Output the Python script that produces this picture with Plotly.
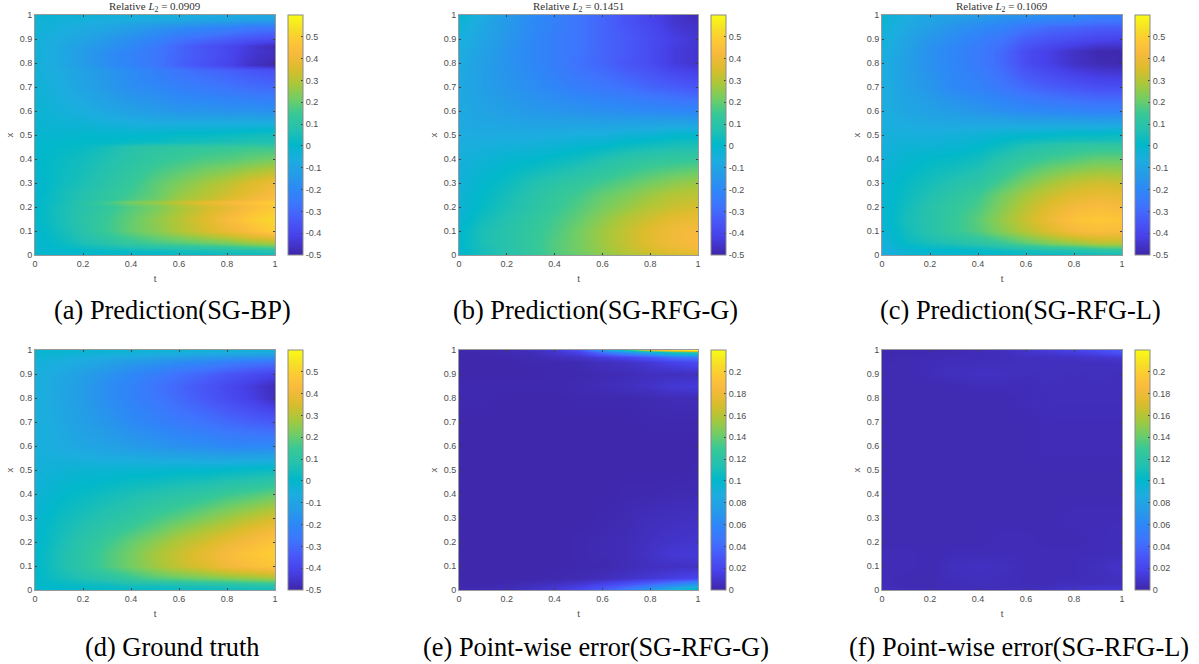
import plotly.graph_objects as go

W, H = 1199, 664
T = [0, .1, .2, .3, .4, .5, .6, .7, .8, .9, 1]
X = [0, .02, .05, .1, .15, .2, .25, .3, .4, .5, .6, .7, .8, .85, .9, .95, .98, 1]
XA = [0, .02, .05, .1, .15, .2, .22, .235, .25, .3, .4, .45, .47, .5, .6, .7, .77, .79, .85, .87, .9, .95, .98, 1]
XC = [0, .02, .05, .1, .15, .2, .25, .3, .4, .46, .48, .5, .6, .7, .8, .85, .9, .95, .98, 1]
XE = [0, .01, .03, .05, .1, .15, .2, .3, .4, .5, .6, .7, .8, .85, .9, .95, .97, .99, 1]

pred_bp = [
 [-.01,-.01,0,0,0,0,.01,.01,.02,.02,.03],
 [-.01,0,.01,.02,.03,.04,.05,.06,.07,.08,.1],
 [-.01,.02,.06,.09,.13,.16,.18,.2,.22,.26,.28],
 [-.01,.04,.09,.15,.2,.24,.29,.34,.39,.44,.5],
 [0,.05,.1,.15,.2,.25,.3,.36,.43,.49,.52],
 [0,.05,.09,.13,.18,.22,.28,.33,.38,.44,.48],
 [0,.04,.1,.16,.22,.26,.32,.38,.42,.46,.5],
 [0,.04,.08,.12,.17,.21,.27,.31,.36,.41,.45],
 [-.01,.04,.08,.12,.16,.2,.26,.3,.34,.39,.44],
 [-.01,.03,.06,.1,.14,.19,.23,.27,.31,.36,.4],
 [0,.02,.04,.07,.1,.13,.15,.17,.18,.2,.22],
 [0,.01,.02,.05,.09,.11,.12,.13,.14,.15,.15],
 [0,0,.01,.01,.02,.03,.04,.05,.06,.07,.07],
 [-.01,-.01,0,0,0,0,.02,.02,.03,.04,.05],
 [-.02,-.04,-.06,-.09,-.11,-.13,-.15,-.15,-.16,-.16,-.17],
 [-.03,-.06,-.1,-.14,-.18,-.2,-.23,-.25,-.27,-.29,-.3],
 [-.04,-.07,-.11,-.15,-.19,-.23,-.27,-.3,-.32,-.35,-.37],
 [-.04,-.08,-.13,-.18,-.22,-.26,-.32,-.36,-.4,-.46,-.49],
 [-.04,-.08,-.13,-.18,-.22,-.26,-.31,-.35,-.39,-.44,-.47],
 [-.04,-.08,-.12,-.16,-.2,-.25,-.31,-.36,-.39,-.44,-.48],
 [-.04,-.07,-.1,-.14,-.18,-.22,-.27,-.3,-.33,-.36,-.38],
 [-.03,-.05,-.07,-.09,-.12,-.15,-.18,-.2,-.22,-.25,-.26],
 [-.03,-.04,-.05,-.06,-.07,-.08,-.09,-.1,-.11,-.12,-.12],
 [-.02,-.03,-.03,-.04,-.04,-.05,-.05,-.06,-.07,-.07,-.08],
]
pred_g = [
 [0,.05,.08,.12,.17,.2,.24,.28,.31,.34,.36],
 [0,.05,.09,.13,.18,.22,.26,.31,.35,.38,.4],
 [0,.06,.09,.13,.18,.22,.27,.32,.37,.41,.43],
 [0,.06,.09,.13,.17,.22,.27,.32,.37,.41,.43],
 [-.02,.04,.08,.12,.16,.2,.25,.3,.34,.38,.39],
 [-.03,.02,.06,.1,.14,.18,.22,.26,.3,.33,.35],
 [-.03,.01,.05,.09,.13,.16,.2,.23,.27,.3,.31],
 [-.04,0,.03,.07,.1,.13,.16,.19,.22,.25,.27],
 [-.05,-.03,-.01,0,.02,.04,.07,.1,.12,.13,.14],
 [-.07,-.07,-.07,-.07,-.06,-.05,-.05,-.03,-.02,0,0],
 [-.08,-.1,-.12,-.14,-.15,-.16,-.17,-.18,-.19,-.2,-.21],
 [-.08,-.12,-.15,-.18,-.21,-.24,-.26,-.28,-.31,-.33,-.35],
 [-.07,-.12,-.16,-.2,-.24,-.28,-.31,-.35,-.38,-.43,-.45],
 [-.06,-.11,-.16,-.2,-.24,-.27,-.31,-.34,-.38,-.43,-.45],
 [-.05,-.1,-.15,-.2,-.24,-.27,-.31,-.34,-.38,-.42,-.45],
 [-.03,-.09,-.14,-.19,-.23,-.27,-.31,-.35,-.39,-.44,-.46],
 [-.02,-.08,-.14,-.19,-.23,-.27,-.31,-.36,-.4,-.45,-.47],
 [-.01,-.07,-.13,-.18,-.23,-.27,-.31,-.36,-.4,-.45,-.48],
]
pred_l = [
 [-.07,-.02,-.01,0,0,0,.01,.01,.02,.03,.03],
 [-.06,-.02,0,0,.01,.03,.05,.07,.08,.1,.12],
 [-.05,.02,.05,.07,.1,.14,.19,.23,.26,.3,.3],
 [-.03,.04,.09,.14,.18,.24,.3,.36,.42,.44,.43],
 [-.02,.05,.09,.14,.19,.26,.33,.4,.46,.48,.47],
 [-.02,.04,.09,.13,.17,.24,.31,.37,.42,.44,.42],
 [-.02,.03,.07,.11,.15,.22,.28,.33,.37,.39,.38],
 [-.02,.02,.05,.08,.11,.17,.23,.28,.32,.34,.33],
 [-.04,-.01,.01,.02,.04,.09,.13,.16,.18,.2,.2],
 [-.05,-.03,-.03,-.02,0,.03,.07,.09,.11,.12,.12],
 [-.05,-.04,-.04,-.03,-.02,.01,.03,.04,.05,.05,.05],
 [-.05,-.05,-.05,-.04,-.03,-.01,0,.01,.02,.02,.03],
 [-.06,-.09,-.11,-.13,-.15,-.17,-.19,-.2,-.21,-.22,-.22],
 [-.06,-.11,-.15,-.2,-.22,-.26,-.3,-.33,-.35,-.37,-.37],
 [-.06,-.12,-.17,-.21,-.25,-.3,-.38,-.42,-.46,-.48,-.49],
 [-.05,-.11,-.17,-.21,-.25,-.3,-.38,-.42,-.46,-.49,-.49],
 [-.04,-.1,-.15,-.19,-.23,-.27,-.33,-.36,-.38,-.4,-.41],
 [-.03,-.08,-.12,-.16,-.19,-.22,-.27,-.3,-.31,-.33,-.33],
 [-.02,-.07,-.1,-.13,-.15,-.18,-.2,-.22,-.23,-.26,-.26],
 [-.02,-.06,-.09,-.11,-.13,-.15,-.16,-.18,-.2,-.22,-.24],
]
truth = [
 [0,0,.01,.01,.01,.01,.02,.02,.02,.03,.03],
 [0,.01,.02,.03,.05,.05,.06,.07,.08,.09,.1],
 [0,.04,.07,.1,.14,.18,.2,.22,.24,.26,.28],
 [0,.06,.11,.17,.22,.27,.32,.36,.41,.44,.47],
 [0,.06,.11,.17,.22,.28,.33,.38,.43,.47,.5],
 [-.01,.05,.1,.15,.2,.25,.3,.34,.39,.43,.47],
 [-.01,.04,.08,.12,.16,.2,.25,.29,.33,.38,.42],
 [-.02,.03,.06,.09,.12,.16,.19,.23,.27,.31,.35],
 [-.03,0,.02,.04,.06,.08,.1,.12,.15,.17,.2],
 [-.04,-.03,-.02,-.02,-.01,-.01,0,0,.01,.02,.03],
 [-.05,-.07,-.09,-.11,-.13,-.15,-.17,-.18,-.2,-.2,-.2],
 [-.05,-.08,-.12,-.15,-.19,-.22,-.25,-.27,-.3,-.32,-.34],
 [-.05,-.09,-.13,-.18,-.22,-.26,-.3,-.34,-.38,-.42,-.47],
 [-.05,-.09,-.13,-.18,-.22,-.27,-.31,-.35,-.39,-.43,-.48],
 [-.05,-.08,-.12,-.16,-.2,-.24,-.28,-.31,-.35,-.38,-.41],
 [-.04,-.06,-.08,-.11,-.14,-.16,-.19,-.21,-.24,-.26,-.28],
 [-.02,-.03,-.04,-.05,-.06,-.08,-.09,-.1,-.11,-.12,-.13],
 [-.01,-.01,-.01,-.02,-.02,-.02,-.02,-.03,-.03,-.03,-.03],
]
err_g = [
 [.003,.003,.004,.008,.012,.02,.035,.05,.075,.095,.105],
 [.002,.003,.004,.007,.012,.018,.03,.045,.065,.085,.1],
 [.001,.001,.002,.004,.006,.01,.016,.024,.035,.05,.065],
 [.001,.001,.001,.001,.002,.003,.005,.008,.012,.016,.02],
 [.001,.001,.001,.001,.001,.002,.002,.004,.006,.007,.008],
 [.001,.001,.001,.001,.001,.002,.003,.004,.008,.012,.013],
 [.001,.001,.001,.001,.001,.002,.003,.004,.007,.009,.01],
 [.001,.001,.001,.001,.001,.001,.002,.003,.005,.006,.007],
 [.001,.001,.001,.001,.001,.001,.001,.002,.002,.003,.003],
 [.001,.001,.001,.001,.001,.001,.001,.001,.001,.001,.002],
 [.001,.001,.001,.001,.001,.001,.001,.001,.001,.001,.001],
 [.001,.001,.001,.001,.001,.001,.001,.001,.002,.002,.002],
 [.002,.002,.001,.001,.001,.002,.002,.002,.003,.004,.004],
 [.002,.002,.002,.002,.002,.003,.004,.006,.008,.012,.013],
 [.001,.001,.001,.001,.002,.002,.003,.004,.006,.006,.007],
 [.001,.001,.001,.002,.002,.003,.006,.008,.012,.018,.022],
 [.001,.001,.002,.003,.005,.008,.014,.02,.03,.045,.05],
 [.001,.002,.003,.004,.01,.018,.045,.07,.09,.12,.13],
 [.002,.002,.003,.006,.012,.025,.07,.11,.17,.2,.22],
]
err_l = [
 [.006,.004,.004,.004,.005,.005,.005,.006,.008,.012,.012],
 [.005,.004,.004,.004,.005,.005,.005,.006,.009,.01,.01],
 [.004,.003,.003,.004,.005,.005,.004,.004,.005,.005,.006],
 [.004,.003,.003,.005,.006,.005,.004,.004,.004,.005,.007],
 [.004,.004,.003,.006,.007,.006,.004,.004,.004,.006,.009],
 [.004,.004,.003,.004,.004,.004,.004,.004,.004,.004,.005],
 [.003,.003,.003,.003,.003,.004,.004,.003,.003,.004,.005],
 [.003,.003,.003,.003,.003,.003,.003,.003,.004,.004,.004],
 [.003,.003,.003,.003,.003,.003,.003,.003,.003,.003,.003],
 [.003,.003,.003,.003,.003,.003,.003,.003,.003,.003,.003],
 [.003,.003,.003,.003,.003,.003,.003,.004,.004,.004,.004],
 [.003,.003,.003,.003,.003,.003,.003,.004,.004,.004,.004],
 [.003,.003,.003,.003,.003,.003,.004,.005,.005,.005,.005],
 [.003,.003,.003,.003,.004,.004,.004,.005,.005,.005,.005],
 [.003,.003,.004,.006,.007,.007,.005,.006,.005,.006,.005],
 [.003,.003,.004,.005,.005,.005,.006,.006,.006,.006,.007],
 [.002,.003,.003,.004,.004,.005,.006,.007,.008,.01,.012],
 [.002,.002,.003,.003,.004,.005,.009,.012,.015,.02,.03],
 [.002,.002,.002,.003,.004,.006,.01,.014,.018,.025,.032],
]

panels = [
 (pred_bp, XA, "pred", "Relative <i>L</i><sub>2</sub> = 0.0909", "(a) Prediction(SG-BP)"),
 (pred_g, X, "pred", "Relative <i>L</i><sub>2</sub> = 0.1451", "(b) Prediction(SG-RFG-G)"),
 (pred_l, XC, "pred", "Relative <i>L</i><sub>2</sub> = 0.1069", "(c) Prediction(SG-RFG-L)"),
 (truth, X, "pred", None, "(d) Ground truth"),
 (err_g, XE, "err", None, "(e) Point-wise error(SG-RFG-G)"),
 (err_l, XE, "err", None, "(f) Point-wise error(SG-RFG-L)"),
]
x_ticks = [0, .2, .4, .6, .8, 1]
x_labels = ["0", "0.2", "0.4", "0.6", "0.8", "1"]
y_ticks = [0, .1, .2, .3, .4, .5, .6, .7, .8, .9, 1]
y_labels = ["0", "0.1", "0.2", "0.3", "0.4", "0.5", "0.6", "0.7", "0.8", "0.9", "1"]
pred_ticks = [-.5, -.4, -.3, -.2, -.1, 0, .1, .2, .3, .4, .5]
pred_labels = ["-0.5", "-0.4", "-0.3", "-0.2", "-0.1", "0", "0.1", "0.2", "0.3", "0.4", "0.5"]
err_ticks = [0, .02, .04, .06, .08, .1, .12, .14, .16, .18, .2]
err_labels = ["0", "0.02", "0.04", "0.06", "0.08", "0.1", "0.12", "0.14", "0.16", "0.18", "0.2"]

parula = [[0.0, "rgb(62,38,168)"], [0.0794, "rgb(71,65,234)"], [0.1429, "rgb(72,88,248)"],
 [0.2063, "rgb(62,116,253)"], [0.2698, "rgb(46,135,247)"], [0.3333, "rgb(37,155,232)"],
 [0.3968, "rgb(28,173,223)"], [0.4603, "rgb(1,184,202)"], [0.5238, "rgb(36,193,175)"],
 [0.5873, "rgb(55,200,151)"], [0.6508, "rgb(114,205,100)"], [0.7143, "rgb(171,199,57)"],
 [0.7778, "rgb(220,188,44)"], [0.8413, "rgb(248,186,61)"], [0.8889, "rgb(253,199,54)"],
 [0.9365, "rgb(246,220,40)"], [1.0, "rgb(249,251,21)"]]

PX = [(35, 275, 288), (459, 698, 711), (882, 1122, 1135)]
PY = [(15, 255), (350, 590)]
SANS = "Liberation Sans"
SERIF = "Liberation Serif"
GREY = "#4d4d4d"
caption_cx = [172.5, 595.5, 1020, 172, 596, 1019]
caption_y = [310, 310, 310, 647, 647, 647]

fig = go.Figure()
ann = []
for i, (z, xs, kind, title, cap) in enumerate(panels):
    c, r = i % 3, i // 3
    x0, x1, cb = PX[c]
    y0, y1 = PY[r]
    n = "" if i == 0 else str(i + 1)
    zmin, zmax = (-.5, .6) if kind == "pred" else (0, .22)
    ticks, labels = (pred_ticks, pred_labels) if kind == "pred" else (err_ticks, err_labels)
    fig.add_trace(go.Heatmap(
        z=z, x=T, y=xs, xaxis="x" + n, yaxis="y" + n, zmin=zmin, zmax=zmax,
        colorscale=parula, zsmooth="best",
        colorbar=dict(x=cb / W, xanchor="left", xpad=0, ypad=0, y=1 - y1 / H, yanchor="bottom",
                      len=(y1 - y0) / H, lenmode="fraction", thickness=15, thicknessmode="pixels",
                      outlinecolor="#8a8a8a", outlinewidth=1, tickvals=ticks, ticktext=labels,
                      ticks="inside", ticklen=2, tickcolor="#404040", tickwidth=1,
                      tickfont=dict(family=SANS, size=9, color=GREY))))
    fig.layout["xaxis" + n] = dict(
        domain=[x0 / W, x1 / W], anchor="y" + n, range=[0, 1], tickvals=x_ticks, ticktext=x_labels,
        ticks="inside", ticklen=2, tickcolor="#404040", showgrid=False, zeroline=False, mirror="ticks",
        showline=True, linecolor="#9a9a9a", linewidth=1, layer="above traces",
        tickfont=dict(family=SANS, size=9, color=GREY),
        title=dict(text="t", standoff=7, font=dict(family=SANS, size=9.5, color=GREY)))
    fig.layout["yaxis" + n] = dict(
        domain=[1 - y1 / H, 1 - y0 / H], anchor="x" + n, range=[0, 1], tickvals=y_ticks, ticktext=y_labels,
        ticks="inside", ticklen=2, tickcolor="#404040", showgrid=False, zeroline=False, mirror="ticks",
        showline=True, linecolor="#9a9a9a", linewidth=1, layer="above traces",
        tickfont=dict(family=SANS, size=9, color=GREY),
        title=dict(text="x", standoff=4, font=dict(family=SANS, size=9.5, color=GREY)))
    if title:
        ann.append(dict(x=(x0 + x1) / 2 / W, y=1 - 7 / H, xref="paper", yref="paper", text=title,
                        xanchor="center", yanchor="middle", showarrow=False,
                        font=dict(family=SERIF, size=11, color="#333333")))
    ann.append(dict(x=caption_cx[i] / W, y=1 - caption_y[i] / H, xref="paper", yref="paper", text=cap,
                    xanchor="center", yanchor="middle", showarrow=False,
                    font=dict(family=SERIF, size=26.4, color="#000000")))

fig.update_layout(width=W, height=H, margin=dict(l=0, r=0, t=0, b=0, autoexpand=False), paper_bgcolor="white",
                  plot_bgcolor="white", annotations=ann, showlegend=False)
fig.write_html("out.html", config={"displayModeBar": False}, post_script="document.body.style.margin='0';")
